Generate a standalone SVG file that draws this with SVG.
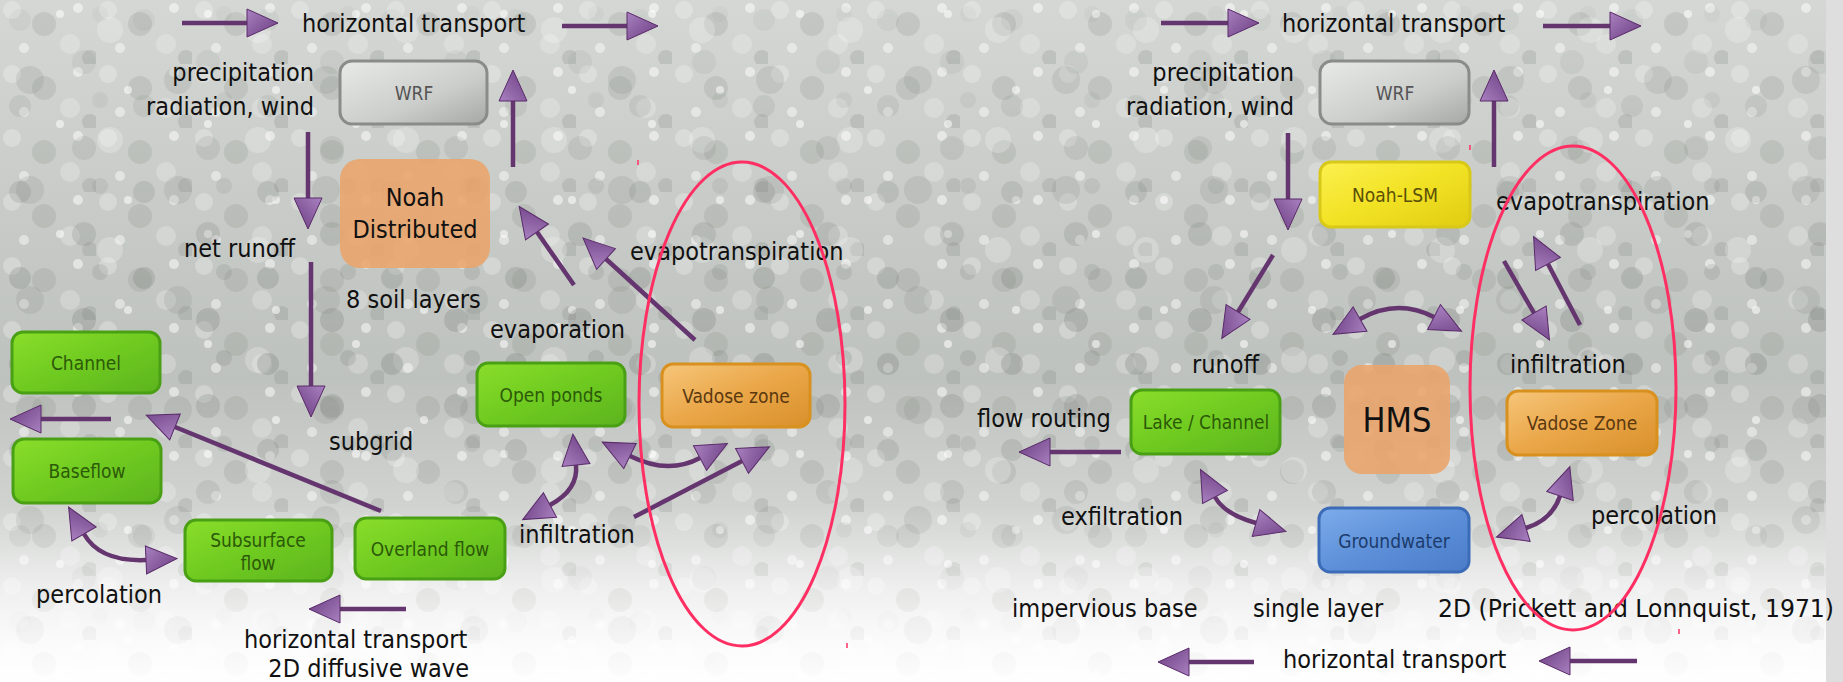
<svg xmlns="http://www.w3.org/2000/svg" width="1843" height="682" viewBox="0 0 1843 682">
<style>
.t{font-family:"DejaVu Sans Condensed","DejaVu Sans",sans-serif;font-stretch:condensed;font-size:25px;fill:#111}
.bl{font-family:"DejaVu Sans Condensed","DejaVu Sans",sans-serif;font-stretch:condensed;font-size:19px;text-anchor:middle;dominant-baseline:central}
.ln{fill:none;stroke:#65356f;stroke-width:4.5}
.ar{marker-end:url(#ah)}
.da{marker-start:url(#ah);marker-end:url(#ah)}
.ell{fill:none;stroke:#ff2f63;stroke-width:3}
.g{stroke:#4aa014;stroke-width:3;fill:url(#gG)}
</style>
<defs>
<linearGradient id="bg" x1="0" y1="0" x2="0" y2="1">
<stop offset="0" stop-color="#d4d7d4"/>
<stop offset="0.55" stop-color="#bec2be"/>
<stop offset="0.8" stop-color="#d6d8d6"/>
<stop offset="1" stop-color="#fbfbfb"/>
</linearGradient>
<linearGradient id="fade" x1="0" y1="0" x2="0" y2="1">
<stop offset="0" stop-color="#fff" stop-opacity="0"/>
<stop offset="0.74" stop-color="#fff" stop-opacity="0"/>
<stop offset="1" stop-color="#fff" stop-opacity="0.9"/>
</linearGradient>
<linearGradient id="band" x1="0" y1="0" x2="0" y2="1">
<stop offset="0" stop-color="#fff" stop-opacity="0.2"/>
<stop offset="0.5" stop-color="#fff" stop-opacity="1"/>
<stop offset="0.85" stop-color="#fff" stop-opacity="0.3"/>
<stop offset="1" stop-color="#fff" stop-opacity="0"/>
</linearGradient>
<mask id="bandMask"><rect x="0" y="0" width="1843" height="682" fill="url(#band)"/></mask>
<pattern id="bk1" width="96" height="64" patternUnits="userSpaceOnUse">
<circle cx="12" cy="10" r="9" fill="#fff" opacity="0.25"/>
<circle cx="44" cy="24" r="12" fill="#80867f" opacity="0.2"/>
<circle cx="78" cy="8" r="5" fill="#fff" opacity="0.5"/>
<circle cx="70" cy="44" r="10" fill="#fff" opacity="0.22"/>
<circle cx="24" cy="48" r="5" fill="#fff" opacity="0.45"/>
<circle cx="90" cy="58" r="8" fill="#737a73" opacity="0.2"/>
</pattern>
<pattern id="bk2" width="148" height="110" patternUnits="userSpaceOnUse">
<circle cx="30" cy="80" r="14" fill="#7d837d" opacity="0.18"/>
<circle cx="110" cy="30" r="13" fill="#fff" opacity="0.22"/>
<circle cx="128" cy="90" r="4" fill="#fff" opacity="0.55"/>
<circle cx="60" cy="14" r="4" fill="#fff" opacity="0.55"/>
</pattern>
<pattern id="bk3" width="124" height="86" patternUnits="userSpaceOnUse">
<circle cx="20" cy="20" r="11" fill="#6e756e" opacity="0.28"/>
<circle cx="84" cy="62" r="12" fill="#6e756e" opacity="0.25"/>
<circle cx="100" cy="14" r="8" fill="#6e756e" opacity="0.2"/>
</pattern>
<linearGradient id="ahg" x1="0" y1="0" x2="1" y2="1">
<stop offset="0" stop-color="#a981c0"/>
<stop offset="1" stop-color="#6a3c80"/>
</linearGradient>
<marker id="ah" markerUnits="userSpaceOnUse" markerWidth="36" markerHeight="32" viewBox="-2 -16 36 32" refX="0" refY="0" orient="auto-start-reverse">
<path d="M0,-14 L31,0 L0,14 Z" fill="url(#ahg)" stroke="#5a2a6a" stroke-width="1"/>
</marker>
<linearGradient id="gG" x1="0" y1="0" x2="1" y2="1">
<stop offset="0" stop-color="#8ade2a"/>
<stop offset="0.5" stop-color="#6fca20"/>
<stop offset="1" stop-color="#5cb41e"/>
</linearGradient>
<linearGradient id="gO" x1="0" y1="0" x2="1" y2="1">
<stop offset="0" stop-color="#f6c67a"/>
<stop offset="0.5" stop-color="#eaa648"/>
<stop offset="1" stop-color="#d8902a"/>
</linearGradient>
<linearGradient id="gW" x1="0" y1="0" x2="1" y2="1">
<stop offset="0" stop-color="#e8eae8"/>
<stop offset="0.6" stop-color="#cbcdcb"/>
<stop offset="1" stop-color="#a6a8a6"/>
</linearGradient>
<linearGradient id="gY" x1="0" y1="0" x2="1" y2="1">
<stop offset="0" stop-color="#fcf050"/>
<stop offset="0.5" stop-color="#f2e224"/>
<stop offset="1" stop-color="#e0cc12"/>
</linearGradient>
<linearGradient id="gB" x1="0" y1="0" x2="1" y2="1">
<stop offset="0" stop-color="#7eaceb"/>
<stop offset="0.5" stop-color="#5d90d9"/>
<stop offset="1" stop-color="#4a7cc8"/>
</linearGradient>
</defs>

<g id="background">
<rect x="0" y="0" width="1843" height="682" fill="#dedede"/>
<rect x="0" y="0" width="1826" height="682" fill="url(#bg)"/>
<rect x="0" y="0" width="1826" height="682" fill="url(#bk1)"/>
<rect x="0" y="0" width="1826" height="682" fill="url(#bk2)"/>
<rect x="0" y="0" width="1826" height="682" fill="url(#bk3)" mask="url(#bandMask)"/>
<rect x="0" y="0" width="1826" height="682" fill="url(#fade)"/>
</g>

<g id="connectors">
<line class="ln ar" x1="182" y1="23" x2="247" y2="23"/>
<line class="ln ar" x1="562" y1="26" x2="627" y2="26"/>
<line class="ln ar" x1="513" y1="167" x2="513" y2="101"/>
<line class="ln ar" x1="308" y1="132" x2="308" y2="198"/>
<line class="ln ar" x1="311" y1="262" x2="311" y2="386"/>
<line class="ln ar" x1="574" y1="285" x2="537" y2="232"/>
<line class="ln ar" x1="695" y1="340" x2="606" y2="259"/>
<line class="ln ar" x1="381" y1="511" x2="175" y2="427"/>
<line class="ln ar" x1="111" y1="419" x2="41" y2="419"/>
<line class="ln ar" x1="634" y1="517" x2="742" y2="461"/>
<line class="ln ar" x1="406" y1="609" x2="340" y2="609"/>
<path class="ln da" d="M576,465 C578,485 565,497 550,505"/>
<path class="ln da" d="M630,456 Q668,475 700,458"/>
<path class="ln da" d="M84,534 Q100,562 146,560"/>

<line class="ln ar" x1="1161" y1="23" x2="1228" y2="23"/>
<line class="ln ar" x1="1543" y1="26" x2="1610" y2="26"/>
<line class="ln ar" x1="1494" y1="167" x2="1494" y2="101"/>
<line class="ln ar" x1="1288" y1="133" x2="1288" y2="199"/>
<line class="ln ar" x1="1273" y1="255" x2="1238" y2="312"/>
<line class="ln ar" x1="1504" y1="261" x2="1534" y2="313"/>
<line class="ln ar" x1="1580" y1="325" x2="1548" y2="264"/>
<line class="ln ar" x1="1121" y1="452" x2="1050" y2="452"/>
<line class="ln ar" x1="1254" y1="662" x2="1189" y2="662"/>
<line class="ln ar" x1="1637" y1="661" x2="1570" y2="661"/>
<path class="ln da" d="M1360,319 Q1397,298 1434,317"/>
<path class="ln da" d="M1215,497 Q1224,514 1256,523"/>
<path class="ln da" d="M1560,496 Q1552,520 1526,528"/>
</g>

<g id="wrf-left">
<rect x="340" y="61" width="147" height="63" rx="12" fill="url(#gW)" stroke="#8a8c8a" stroke-width="3"/>
<text class="bl" x="414" y="93" fill="#555">WRF</text>
</g>
<g id="noah-distributed">
<rect x="340" y="159" width="150" height="109" rx="20" fill="#eba46a" opacity="0.88"/>
<text class="t" x="415" y="206" text-anchor="middle">Noah</text>
<text class="t" x="415" y="238" text-anchor="middle">Distributed</text>
</g>
<g id="channel">
<rect x="12" y="332" width="148" height="61" rx="11" class="g"/>
<text class="bl" x="86" y="363" fill="#2c5a08">Channel</text>
</g>
<g id="baseflow">
<rect x="13" y="439" width="148" height="64" rx="11" class="g"/>
<text class="bl" x="87" y="471" fill="#2c5a08">Baseflow</text>
</g>
<g id="open-ponds">
<rect x="477" y="363" width="148" height="63" rx="11" class="g"/>
<text class="bl" x="551" y="395" fill="#2c5a08">Open ponds</text>
</g>
<g id="vadose-left">
<rect x="662" y="364" width="148" height="63" rx="11" fill="url(#gO)" stroke="#d8901e" stroke-width="3"/>
<text class="bl" x="736" y="396" fill="#5a3810">Vadose zone</text>
</g>
<g id="subsurface-flow">
<rect x="185" y="520" width="147" height="61" rx="11" class="g"/>
<text class="bl" x="258" y="540" fill="#2c5a08">Subsurface</text>
<text class="bl" x="258" y="563" fill="#2c5a08">flow</text>
</g>
<g id="overland-flow">
<rect x="355" y="518" width="150" height="61" rx="11" class="g"/>
<text class="bl" x="430" y="549" fill="#2c5a08">Overland flow</text>
</g>

<g id="wrf-right">
<rect x="1320" y="61" width="149" height="63" rx="12" fill="url(#gW)" stroke="#8a8c8a" stroke-width="3"/>
<text class="bl" x="1395" y="93" fill="#555">WRF</text>
</g>
<g id="noah-lsm">
<rect x="1320" y="162" width="150" height="65" rx="11" fill="url(#gY)" stroke="#d8c818" stroke-width="3"/>
<text class="bl" x="1395" y="195" fill="#5a5008">Noah-LSM</text>
</g>
<g id="lake-channel">
<rect x="1131" y="390" width="149" height="64" rx="11" class="g"/>
<text class="bl" x="1206" y="422" fill="#2c5a08">Lake / Channel</text>
</g>
<g id="hms">
<rect x="1344" y="365" width="106" height="109" rx="18" fill="#eba46a" opacity="0.88"/>
<text x="1397" y="420" text-anchor="middle" dominant-baseline="central" style="font-family:'DejaVu Sans Condensed','DejaVu Sans',sans-serif;font-stretch:condensed;font-size:34px;fill:#111">HMS</text>
</g>
<g id="vadose-right">
<rect x="1507" y="391" width="150" height="64" rx="11" fill="url(#gO)" stroke="#d8901e" stroke-width="3"/>
<text class="bl" x="1582" y="423" fill="#5a3810">Vadose Zone</text>
</g>
<g id="groundwater">
<rect x="1319" y="508" width="150" height="64" rx="11" fill="url(#gB)" stroke="#3c6cb8" stroke-width="3"/>
<text class="bl" x="1394" y="541" fill="#1c3c6c">Groundwater</text>
</g>

<g id="labels">
<text class="t" x="302" y="32">horizontal transport</text>
<text class="t" x="314" y="81" text-anchor="end">precipitation</text>
<text class="t" x="314" y="115" text-anchor="end">radiation, wind</text>
<text class="t" x="295" y="257" text-anchor="end">net runoff</text>
<text class="t" x="346" y="308">8 soil layers</text>
<text class="t" x="490" y="338">evaporation</text>
<text class="t" x="630" y="260">evapotranspiration</text>
<text class="t" x="329" y="450">subgrid</text>
<text class="t" x="519" y="543">infiltration</text>
<text class="t" x="36" y="603">percolation</text>
<text class="t" x="244" y="648">horizontal transport</text>
<text class="t" x="469" y="677" text-anchor="end">2D diffusive wave</text>

<text class="t" x="1282" y="32">horizontal transport</text>
<text class="t" x="1294" y="81" text-anchor="end">precipitation</text>
<text class="t" x="1294" y="115" text-anchor="end">radiation, wind</text>
<text class="t" x="1496" y="210">evapotranspiration</text>
<text class="t" x="1192" y="373">runoff</text>
<text class="t" x="1510" y="373">infiltration</text>
<text class="t" x="977" y="427">flow routing</text>
<text class="t" x="1061" y="525">exfiltration</text>
<text class="t" x="1591" y="524">percolation</text>
<text class="t" x="1012" y="617">impervious base</text>
<text class="t" x="1253" y="617">single layer</text>
<text class="t" x="1438" y="617" textLength="396" lengthAdjust="spacingAndGlyphs">2D (Prickett and Lonnquist, 1971)</text>
<text class="t" x="1283" y="668">horizontal transport</text>
</g>

<g id="highlights">
<ellipse class="ell" cx="742" cy="404" rx="103" ry="242"/>
<ellipse class="ell" cx="1573" cy="388" rx="103" ry="242"/>
<line x1="638" y1="160" x2="638" y2="165" stroke="#ff2f63" stroke-width="1.5"/>
<line x1="847" y1="643" x2="847" y2="648" stroke="#ff2f63" stroke-width="1.5"/>
<line x1="1470" y1="145" x2="1470" y2="150" stroke="#ff2f63" stroke-width="1.5"/>
<line x1="1679" y1="629" x2="1679" y2="634" stroke="#ff2f63" stroke-width="1.5"/>
</g>
</svg>
